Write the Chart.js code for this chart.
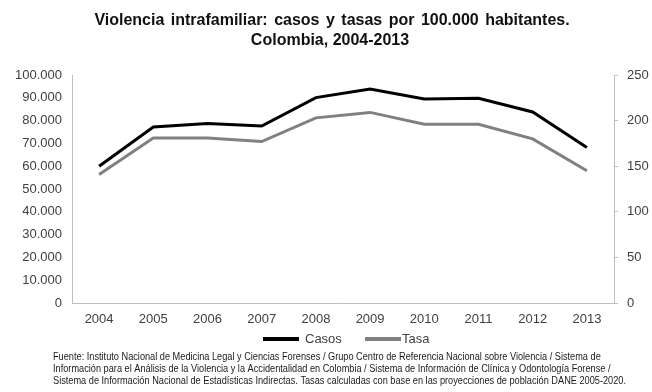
<!DOCTYPE html>
<html>
<head>
<meta charset="utf-8">
<script src="https://cdn.jsdelivr.net/npm/chart.js@4/dist/chart.umd.min.js"></script>
<style>
  html, body { margin: 0; padding: 0; background: #fff; }
  #wrap { position: relative; width: 652px; height: 392px; }
  canvas { display: block; }
</style>
</head>
<body>
<div id="wrap"><canvas id="c" width="652" height="392"></canvas></div>
<script>
// ---- data ----
const years = ['2004','2005','2006','2007','2008','2009','2010','2011','2012','2013'];
const casos = [60000, 77200, 78700, 77600, 90100, 93900, 89500, 89800, 83800, 68200];
const tasa  = [141, 181, 181, 177, 203, 209, 196, 196, 180, 145];
const titleLines = ['Violencia intrafamiliar: casos y tasas por 100.000 habitantes.', 'Colombia, 2004-2013'];
const footerLines = [
  'Fuente: Instituto Nacional de Medicina Legal y Ciencias Forenses / Grupo Centro de Referencia Nacional sobre Violencia / Sistema de',
  'Información para el Análisis de la Violencia y la Accidentalidad en Colombia / Sistema de Información de Clínica y Odontología Forense /',
  'Sistema de Información Nacional de Estadísticas Indirectas. Tasas calculadas con base en las proyecciones de población DANE 2005-2020.'
];
const seriesNames = ['Casos', 'Tasa'];

const fmt = v => String(v).replace(/\B(?=(\d{3})+(?!\d))/g, '.');
const tickColor = '#404040';
const fontFam = '"Liberation Sans", Arial, sans-serif';

const textPlugin = {
  id: 'texts',
  afterDraw(chart) {
    const ctx = chart.ctx;
    ctx.save();
    // title
    ctx.fillStyle = '#111';
    ctx.textAlign = 'center';
    ctx.textBaseline = 'middle';
    ctx.font = 'bold 16px ' + fontFam;
    if ('wordSpacing' in ctx) ctx.wordSpacing = '2px';
    ctx.fillText(titleLines[0], 332, 21);
    if ('wordSpacing' in ctx) ctx.wordSpacing = '0px';
    ctx.fillText(titleLines[1], 330, 41);
    // legend (from datasets)
    const legendPos = [{ box: 263, text: 305 }, { box: 365, text: 402 }];
    const ly = 339;
    ctx.font = '13px ' + fontFam;
    ctx.textAlign = 'left';
    chart.data.datasets.forEach((ds, i) => {
      const p = legendPos[i];
      ctx.fillStyle = ds.borderColor;
      ctx.fillRect(p.box, ly - 2, 36, 4);
      ctx.fillStyle = tickColor;
      ctx.fillText(ds.label, p.text, ly);
    });
    // footer
    ctx.font = '10px "Liberation Sans Narrow", ' + fontFam;
    ctx.fillStyle = '#1a1a1a';
    const w = ctx.measureText(footerLines[2]).width;
    const s = 573 / w;
    const ys = [357, 369, 381];
    footerLines.forEach((t, i) => {
      ctx.save();
      ctx.translate(53, ys[i]);
      ctx.scale(s, 1);
      ctx.fillText(t, 0, 0);
      ctx.restore();
    });
    ctx.restore();
  }
};

const axisColor = '#bfbfbf';
const tickFont = { family: fontFam, size: 13 };

new Chart(document.getElementById('c'), {
  type: 'line',
  data: {
    labels: years,
    datasets: [
      { label: seriesNames[0], data: casos, yAxisID: 'y', borderColor: '#000000', backgroundColor: '#000000',
        borderWidth: 3, pointRadius: 0, tension: 0, fill: false },
      { label: seriesNames[1], data: tasa, yAxisID: 'y1', borderColor: '#808080', backgroundColor: '#808080',
        borderWidth: 3, pointRadius: 0, tension: 0, fill: false }
    ]
  },
  options: {
    responsive: false,
    animation: false,
    events: [],
    layout: { padding: { top: 75, left: 0, right: 0, bottom: 64 } },
    plugins: {
      title: { display: false },
      tooltip: { enabled: false },
      legend: { display: false }
    },
    scales: {
      x: {
        offset: true,
        grid: { display: false, drawTicks: false },
        border: { display: true, color: axisColor, width: 1 },
        ticks: { font: tickFont, color: tickColor, padding: 9, maxRotation: 0, autoSkip: false },
        afterFit(scale) { scale.height = 25; }
      },
      y: {
        position: 'left',
        min: 0, max: 100000,
        grid: { display: false, drawTicks: false },
        border: { display: true, color: axisColor, width: 1 },
        ticks: { stepSize: 10000, font: tickFont, color: tickColor, padding: 10, callback: v => fmt(v) },
        afterFit(scale) { scale.width = 72; }
      },
      y1: {
        position: 'right',
        min: 0, max: 250,
        grid: { display: true, drawOnChartArea: false, drawTicks: true, tickLength: 4, color: axisColor },
        border: { display: true, color: axisColor, width: 1 },
        ticks: { stepSize: 50, font: tickFont, color: tickColor, padding: 9 },
        afterFit(scale) { scale.width = 38; }
      }
    }
  },
  plugins: [textPlugin]
});
</script>
</body>
</html>
